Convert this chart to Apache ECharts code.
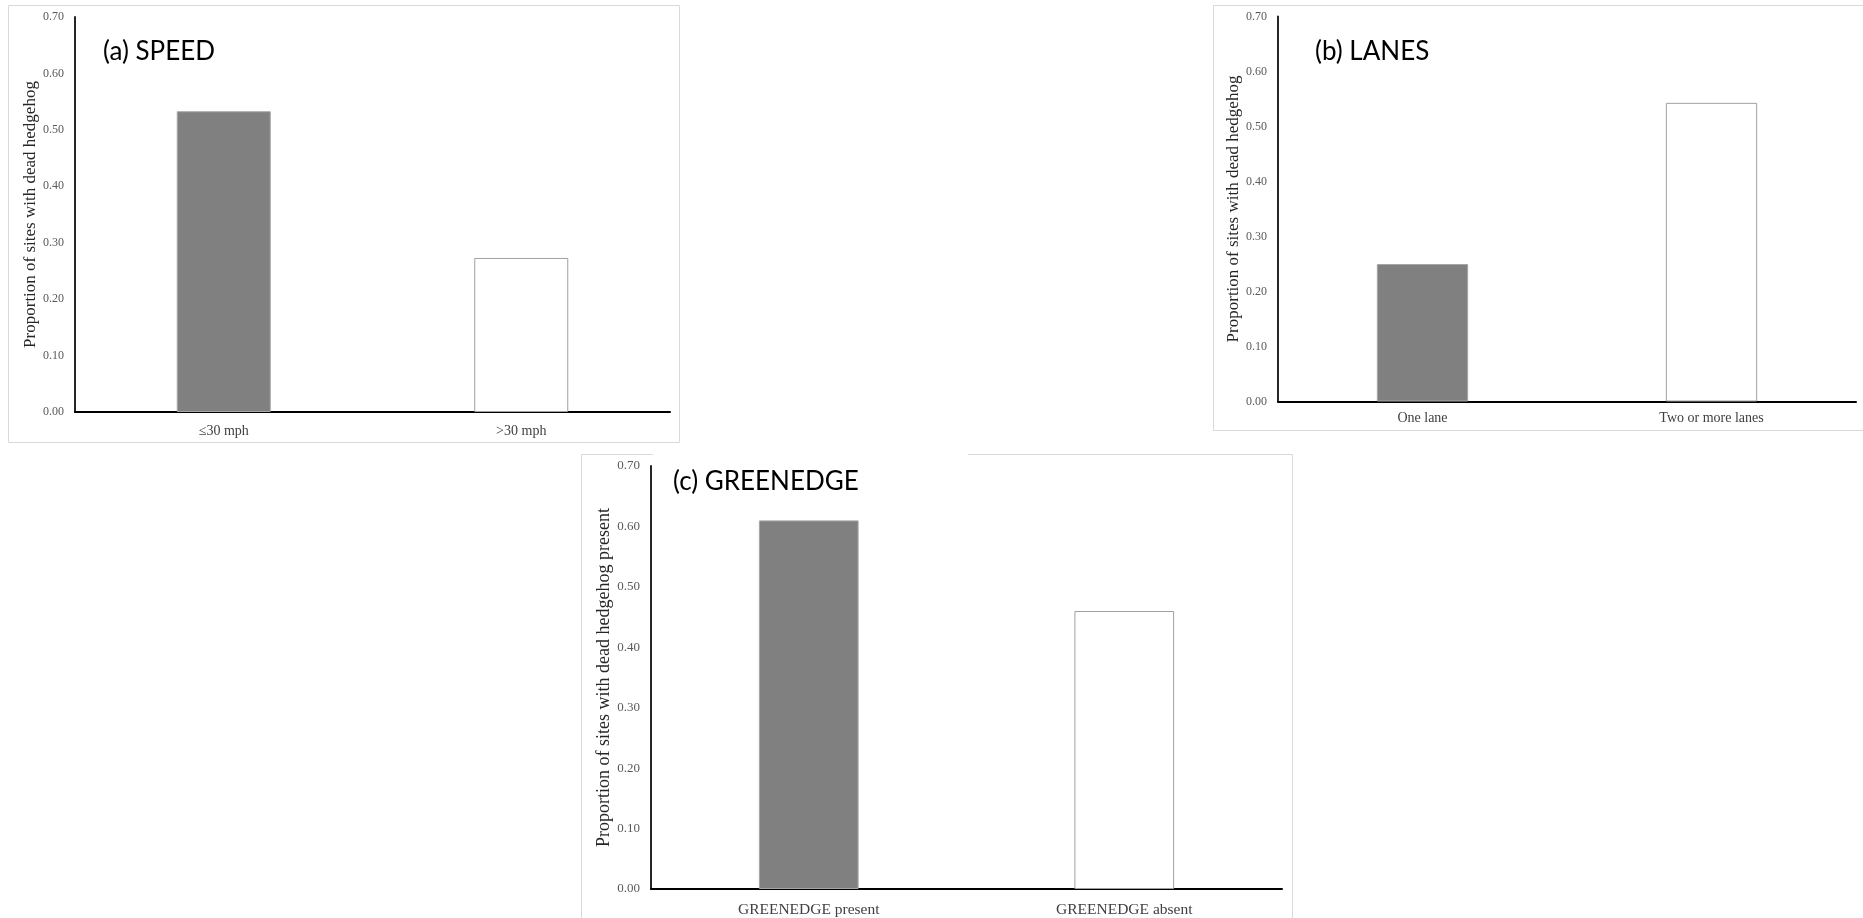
<!DOCTYPE html>
<html>
<head>
<meta charset="utf-8">
<script src="https://cdn.jsdelivr.net/npm/echarts@6/dist/echarts.min.js"></script>
<style>
html,body{margin:0;padding:0;background:#fff;}
#chart{width:1863px;height:918px;}
</style>
</head>
<body>
<div id="chart"></div>
<script>
// ---- data ----
const speedCategories = ['≤30 mph', '>30 mph'];
const speedValues = [0.533, 0.273];
const lanesCategories = ['One lane', 'Two or more lanes'];
const lanesValues = [0.25, 0.543];
const greenedgeCategories = ['GREENEDGE present', 'GREENEDGE absent'];
const greenedgeValues = [0.61, 0.46];
const panelTitles = ['(a) SPEED', '(b) LANES', '(c) GREENEDGE'];
const yAxisNames = [
  'Proportion of sites with dead hedgehog',
  'Proportion of sites with dead hedgehog',
  'Proportion of sites with dead hedgehog present'
];
const yMin = 0, yMax = 0.7, yStep = 0.1;

// ---- styling ----
const serif = '"Liberation Serif", "Times New Roman", serif';
const barStyles = [
  {color: '#808080', borderColor: '#a6a6a6', borderWidth: 1},
  {color: '#ffffff', borderColor: '#a0a0a0', borderWidth: 1}
];
const grids = [
  {left: 75, top: 17, width: 595, height: 395},
  {left: 1278, top: 16.5, width: 578, height: 385},
  {left: 651, top: 466, width: 631, height: 423}
];
const nameGaps = [34, 29, 36];
const nameSizes = [17, 17, 18];
const tickSizes = [12, 12, 13];
const catSizes = [14, 14, 15.5];
const labelMargins = [12, 10, 13];
const cats = [speedCategories, lanesCategories, greenedgeCategories];
const vals = [speedValues, lanesValues, greenedgeValues];

const chart = echarts.init(document.getElementById('chart'), null, {renderer: 'canvas'});

const option = {
  backgroundColor: '#ffffff',
  animation: false,
  grid: grids.map(g => Object.assign({containLabel: false}, g)),
  xAxis: cats.map((c, i) => ({
    type: 'category',
    gridIndex: i,
    data: c,
    axisLine: {show: true, lineStyle: {color: '#000000', width: 2}},
    axisTick: {show: false},
    axisLabel: {fontFamily: serif, fontSize: catSizes[i], color: '#404040', margin: labelMargins[i]},
    splitLine: {show: false}
  })),
  yAxis: cats.map((c, i) => ({
    type: 'value',
    gridIndex: i,
    min: yMin, max: yMax, interval: yStep,
    name: yAxisNames[i],
    nameLocation: 'middle',
    nameRotate: 90,
    nameGap: nameGaps[i],
    nameTextStyle: {fontFamily: serif, fontSize: nameSizes[i], color: '#262626'},
    axisLine: {show: true, lineStyle: {color: '#262626', width: 2}},
    axisTick: {show: false},
    axisLabel: {fontFamily: serif, fontSize: tickSizes[i], color: '#595959', margin: 11,
      formatter: v => v.toFixed(2)},
    splitLine: {show: false}
  })),
  series: vals.map((v, i) => ({
    type: 'bar',
    xAxisIndex: i,
    yAxisIndex: i,
    barWidth: '31.6%',
    data: v.map((val, j) => ({value: val, itemStyle: barStyles[j]}))
  })),
  graphic: [
    // panel frames
    {type: 'rect', z: -10, shape: {x: 8.5, y: 5.5, width: 671, height: 437},
      style: {fill: null, stroke: '#d9d9d9', lineWidth: 1}},
    {type: 'rect', z: -10, shape: {x: 1213.5, y: 5.5, width: 660, height: 425},
      style: {fill: null, stroke: '#d9d9d9', lineWidth: 1}},
    {type: 'polyline', z: -10, shape: {points: [[581.5, 930], [581.5, 454.5], [653, 454.5]]},
      style: {fill: null, stroke: '#d9d9d9', lineWidth: 1}},
    {type: 'polyline', z: -10, shape: {points: [[968, 454.5], [1292.5, 454.5], [1292.5, 930]]},
      style: {fill: null, stroke: '#d9d9d9', lineWidth: 1}},
    // panel titles
    {type: 'text', x: 103, y: 52, style: {text: panelTitles[0], font: '26px Lato', fill: '#000', textVerticalAlign: 'middle'}},
    {type: 'text', x: 1315, y: 52, style: {text: panelTitles[1], font: '26px Lato', fill: '#000', textVerticalAlign: 'middle'}},
    {type: 'text', x: 673, y: 482, style: {text: panelTitles[2], font: '26px Lato', fill: '#000', textVerticalAlign: 'middle'}}
  ]
};
chart.setOption(option);
</script>
</body>
</html>
